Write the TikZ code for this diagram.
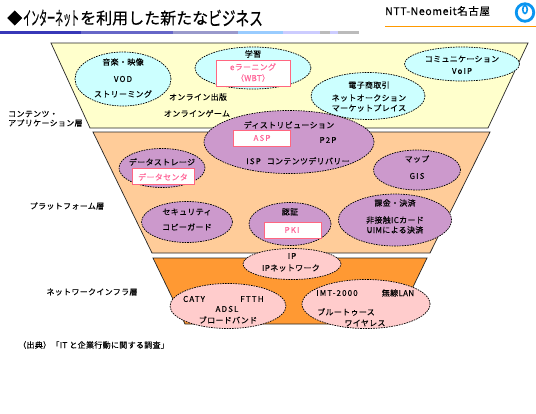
\documentclass[tikz,border=0pt]{standalone}
\usepackage{fontspec}
\usetikzlibrary{shapes.geometric}
\newfontfamily\jp[LetterSpace=4,FakeBold=0.2]{Noto Sans CJK JP}
\newfontfamily\jplat[LetterSpace=14,FakeBold=0.2]{Noto Sans CJK JP}
\newfontfamily\jpl[LetterSpace=6,FakeBold=0.5]{Noto Sans CJK JP}
\newfontfamily\jpt[FakeBold=0.5]{Noto Sans CJK JP}
\newfontfamily\jpn[FakeStretch=0.42,FakeBold=0.5]{Noto Sans CJK JP}
\newfontfamily\jpw[FakeStretch=0.72,FakeBold=0.5]{Noto Sans CJK JP}
\definecolor{cyellow}{HTML}{FFFFCC}
\definecolor{corange}{HTML}{FFCC99}
\definecolor{cdeep}{HTML}{FF9933}
\definecolor{ccyan}{HTML}{CCFFFF}
\definecolor{cpurple}{HTML}{CC99CC}
\definecolor{cpink}{HTML}{FFCCCC}
\definecolor{ctxtpink}{HTML}{FF6699}
\definecolor{cbox}{HTML}{FF6680}
\definecolor{clogo}{HTML}{0A95F0}
\tikzset{
  layer/.style={draw=black!85,line width=0.7pt},
  blob/.style={ellipse,draw=black,line width=0.7pt,dash pattern=on 1.6pt off 1pt,inner sep=0pt},
  lbl/.style={inner sep=0pt,font=\jp\fontsize{8}{9}\selectfont,text=black},
  latlbl/.style={lbl,font=\jplat\fontsize{8}{9}\selectfont},
  side/.style={lbl,align=left},
  pinkbox/.style={rectangle,draw=cbox,line width=0.8pt,fill=white,inner sep=0pt},
  pinklbl/.style={lbl,text=ctxtpink},
  pinklat/.style={latlbl,text=ctxtpink}
}
\newcommand{\blobat}[6]{\node[blob,fill=#2,minimum width=#5pt,minimum height=#6pt] (#1) at (#3,#4) {};}
\newcommand{\boxat}[5]{\node[pinkbox,minimum width=#4pt,minimum height=#5pt] (#1) at (#2,#3) {};}
\newcommand{\lab}[4]{\node[lbl] (#1) at (#2,#3) {#4};}
\newcommand{\llab}[4]{\node[latlbl] (#1) at (#2,#3) {#4};}
\newcommand{\plab}[4]{\node[pinklbl] (#1) at (#2,#3) {#4};}
\newcommand{\pllab}[4]{\node[pinklat] (#1) at (#2,#3) {#4};}
\begin{document}
\begin{tikzpicture}[x=1pt,y=-1pt]
\useasboundingbox (0,0) rectangle (536,413);
\fill[white] (0,0) rectangle (536,413);
% header
\node[inner sep=0pt,anchor=west,font=\jpt\fontsize{15}{16}\selectfont] (diamond) at (7,18) {◆};
\node[inner sep=0pt,anchor=west,font=\jpn\fontsize{19}{22}\selectfont] (kana) at (23,18) {インターネット};
\node[inner sep=0pt,anchor=west,font=\jpt\fontsize{16}{20}\selectfont] (kanji) at (80,18) {を利用した新たな};
\node[inner sep=0pt,anchor=west,font=\jpw\fontsize{19}{22}\selectfont] (biz) at (208,18) {ビジネス};
\foreach \a/\b/\c in {0/81/3838B8,81/173/6666C8,173/238/9999CC,238/283/99CCFF,283/320/CCCCFF,320/330/BBBBBB,330/338/CCCCFF,338/359/BBBBBB}{
  \definecolor{segc}{HTML}{\c}
  \fill[segc] (\a,31) rectangle (\b,34);
}
\node[inner sep=0pt,font=\jpl\fontsize{10.5}{11}\selectfont,anchor=west] (ntt) at (385,11) {NTT-Neomeit名古屋};
\draw[color=orange!80!yellow,line width=0.8pt] (385,26) -- (536,26);
\node[circle,draw=clogo,line width=2.8pt,minimum size=17.5pt,inner sep=0pt] (logo) at (525,12.5) {};
\node[ellipse,draw=clogo,line width=1.6pt,minimum width=4.5pt,minimum height=8pt,inner sep=0pt] (logoin) at (525,9.5) {};
% layers
\draw[layer,fill=cyellow] (51,43) -- (528,43) -- (488,128) -- (90,128) -- cycle;
\draw[layer,fill=corange] (93,132) -- (490,132) -- (430,253) -- (152,253) -- cycle;
\draw[layer,fill=cdeep] (153,258) -- (427,258) -- (395,324) -- (185,324) -- cycle;
% ellipses
\blobat{music}{ccyan}{123}{79}{96}{54}
\blobat{learn}{ccyan}{253}{68}{116}{42}
\blobat{comm}{ccyan}{462}{64}{115}{34}
\blobat{ec}{ccyan}{368}{96}{114}{47}
\blobat{dist}{cpurple}{289}{142}{170}{63}
\blobat{store}{cpurple}{162}{168}{86}{39}
\blobat{sec}{cpurple}{187}{222}{91}{41}
\blobat{auth}{cpurple}{290}{224}{82}{43}
\blobat{map}{cpurple}{417}{170}{87}{40}
\blobat{pay}{cpurple}{395}{220}{113}{52}
\blobat{ip}{cpink}{292}{264}{98}{31}
\blobat{wired}{cpink}{228}{306}{116}{45}
\blobat{wless}{cpink}{366}{304}{128}{49}
% boxes
\boxat{wbt}{253}{73}{74}{26}
\boxat{asp}{262}{138}{57}{16}
\boxat{dc}{163}{176}{62}{16}
\boxat{pki}{292.5}{230}{57}{16}
% labels
\lab{t1}{123}{62}{音楽・映像}
\llab{t2}{123}{79}{VOD}
\lab{t3}{123}{94}{ストリーミング}
\lab{t4}{198}{97}{オンライン出版}
\lab{t5}{197}{113.5}{オンラインゲーム}
\lab{t6}{253}{54}{学習}
\plab{t7}{253}{67}{eラーニング}
\plab{t8}{253}{78}{（WBT）}
\lab{t9}{462}{59}{コミュニケーション}
\llab{t10}{462}{71}{VoIP}
\lab{t11}{369}{85}{電子商取引}
\lab{t12}{369}{98}{ネットオークション}
\lab{t13}{369}{108}{マーケットプレイス}
\node[side,anchor=west] (t14) at (8,114) {コンテンツ・};
\node[side,anchor=west] (t15) at (8,123) {アプリケーション層};
\lab{t16}{289}{125}{ディストリビューション}
\pllab{t17}{262}{138}{ASP}
\llab{t18}{328}{140}{P2P}
\lab{t19}{298}{161}{{\jplat ISP}\hspace{6pt}コンテンツデリバリー}
\lab{t20}{162}{162}{データストレージ}
\plab{t21}{163}{177}{データセンタ}
\lab{t22}{67}{206}{プラットフォーム層}
\lab{t23}{187}{212}{セキュリティ}
\lab{t24}{187}{227}{コピーガード}
\lab{t25}{290}{212}{認証}
\pllab{t26}{292}{230}{PKI}
\lab{t27}{417}{159}{マップ}
\llab{t28}{417}{176}{GIS}
\lab{t29}{395}{203}{課金・決済}
\lab{t30}{395}{220}{非接触ICカード}
\lab{t31}{395}{230}{UIMによる決済}
\llab{t32}{292}{256}{IP}
\lab{t33}{291}{268}{IPネットワーク}
\lab{t34}{92}{292}{ネットワークインフラ層}
\llab{t35}{194}{299}{CATY}
\llab{t36}{252}{299}{FTTH}
\llab{t37}{227}{309}{ADSL}
\lab{t38}{228}{320}{ブロードバンド}
\llab{t39}{337}{293}{IMT-2000}
\lab{t40}{398}{293}{無線LAN}
\lab{t41}{346}{312}{ブルートゥース}
\lab{t42}{365}{323}{ワイヤレス}
\node[lbl,anchor=west] (t43) at (18,345) {（出典）「IT と企業行動に関する調査」};
\end{tikzpicture}
\end{document}
